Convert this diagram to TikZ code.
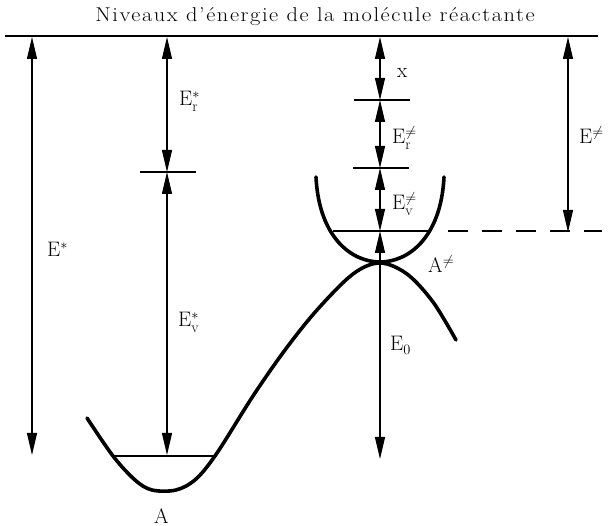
\documentclass[tikz,border=0pt]{standalone}
\usepackage{fontspec}
\setmainfont{Latin Modern Roman}
\DeclareMathSizes{21}{21}{15}{11}
\usetikzlibrary{arrows.meta}
\begin{document}
\begin{tikzpicture}[x=1pt,y=-1pt,
  dim/.style={line width=1.2pt,{Triangle[length=22pt,width=10pt]}-{Triangle[length=22pt,width=10pt]}},
  tick/.style={line width=1.2pt},
  curve/.style={line width=3.6pt,line cap=round,line join=round},
  lbl/.style={font=\fontsize{21}{22}\selectfont,inner sep=0pt,anchor=base west},
  lvl/.style={line width=1.8pt}]
\useasboundingbox (0,0) rectangle (616,526);
% title and top line
\node[font=\fontsize{20}{22}\selectfont\addfontfeature{LetterSpace=7},inner sep=0pt,anchor=base] (title) at (315,22) {\scalebox{1.12}[1]{Niveaux d'\'energie de la mol\'ecule r\'eactante}};
\coordinate (topL) at (5,36);
\coordinate (topR) at (598,36);
\draw[line width=2.4pt] (topL) -- (topR);
% coordinates
\coordinate (Etop) at (32,37);   \coordinate (Ebot) at (32,455);
\coordinate (Ertop) at (167,37); \coordinate (Erbot) at (167,172); \coordinate (Evbot) at (167,455);
\coordinate (Ctop) at (380,37);  \coordinate (C1) at (380,100); \coordinate (C2) at (380,168);
\coordinate (C3) at (380,231);   \coordinate (C4) at (380,459);
\coordinate (Dtop) at (568,37);  \coordinate (Dbot) at (568,232);
% ticks
\coordinate (t1a) at (140,172); \coordinate (t1b) at (196,172);
\coordinate (t2a) at (354,100); \coordinate (t2b) at (410,100);
\coordinate (t3a) at (353,168); \coordinate (t3b) at (409,168);
\draw[tick] (t1a) -- (t1b);
\draw[tick] (t2a) -- (t2b);
\draw[tick] (t3a) -- (t3b);
% levels
\coordinate (la) at (113,456); \coordinate (lb) at (217,456);
\draw[lvl] (la) -- (lb);
\coordinate (lc) at (333,231); \coordinate (ld) at (428,231);
\draw[lvl] (lc) -- (ld);
\coordinate (da) at (448,231); \coordinate (db) at (602,231);
\draw[line width=1.2pt,dash pattern=on 20pt off 14pt] (da) -- (db);
% curves
\draw[curve] plot[smooth,tension=0.55] coordinates {(87,418) (113,456) (135,480) (152,490) (176,490) (196,479) (217,453) (253,396) (285,350) (317,310) (353,274) (380,263) (407,274) (433,302) (456,340)};
\draw[curve] (316,177) .. controls (319,238) and (352,262) .. (380,262) .. controls (408,262) and (441,238) .. (444,177);
% arrows
\draw[dim] (Etop) -- (Ebot);
\draw[dim] (Ertop) -- (Erbot);
\draw[dim] (Erbot) -- (Evbot);
\draw[dim] (Ctop) -- (C1);
\draw[dim] (C1) -- (C2);
\draw[dim] (C2) -- (C3);
\draw[dim] (C3) -- (C4);
\draw[dim] (Dtop) -- (Dbot);
% labels
\node[lbl] (lE) at (47,257) {E$^{*}$};
\node[lbl] (lEr) at (179,106) {E$_{\mathrm{r}}^{*}$};
\node[lbl] (lEv) at (178,327) {E$_{\mathrm{v}}^{*}$};
\node[lbl] (lx) at (397,78) {x};
\node[lbl] (lErd) at (392,144) {E$_{\mathrm{r}}^{\neq}$};
\node[lbl] (lEvd) at (392,210) {E$_{\mathrm{v}}^{\neq}$};
\node[lbl] (lAd) at (428,273) {A$^{\neq}$};
\node[lbl] (lE0) at (390,351) {E$_0$};
\node[lbl] (lA) at (154,523) {A};
\node[lbl] (lEd) at (579,144) {E$^{\neq}$};
\end{tikzpicture}
\end{document}
